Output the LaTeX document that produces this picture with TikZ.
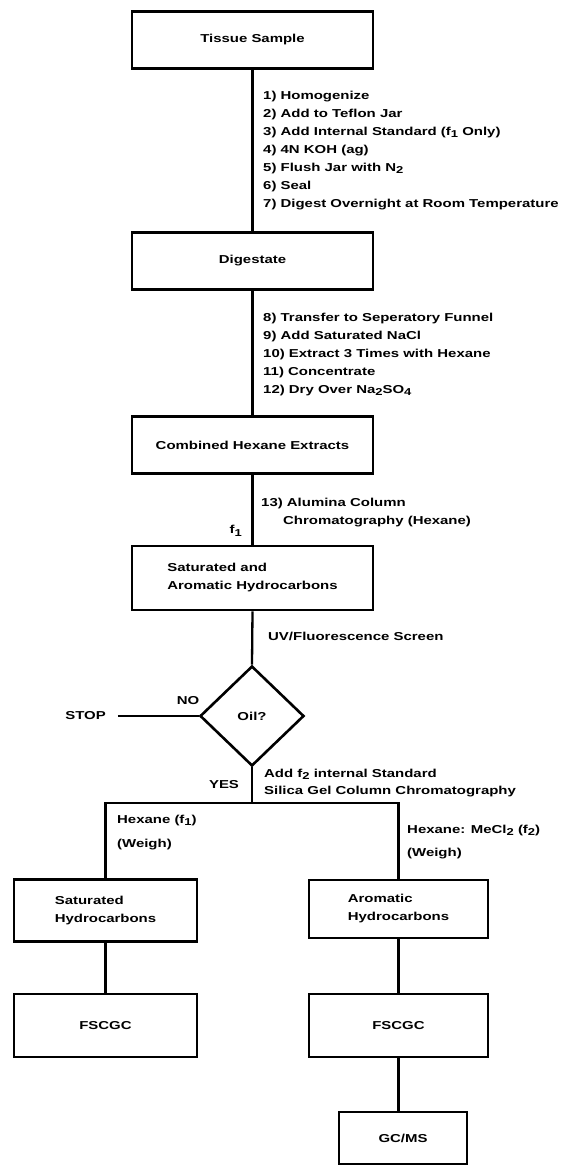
\documentclass[tikz,border=0pt]{standalone}
\usepackage{fontspec}
\setmainfont[FakeStretch=1.3]{Liberation Sans}
\usetikzlibrary{positioning, shapes.geometric}
\newcommand{\lowsub}[1]{\raisebox{-0.45ex}{\fontsize{10}{10}\selectfont #1}}
\tikzset{
stepbox/.style={draw, line width=2.6pt, inner sep=0pt},
mainbox/.style={stepbox, minimum width=241pt, minimum height=57pt},
sidebox/.style={stepbox, minimum width=183pt, minimum height=62pt},
note/.style={align=left, inner sep=0pt, anchor=north west},
link/.style={line width=2.3pt},
}

\begin{document}
\begin{tikzpicture}[x=1pt, y=-1pt, font=\bfseries\fontsize{11.5}{18}\selectfont]
    \useasboundingbox (0,0) rectangle (571,1166);

    %boxes on the main line
    \node[mainbox] (tissue)  at (252.5,40)  {Tissue Sample};
    \node[mainbox] (digest)  at (252.5,261) {Digestate};
    \node[mainbox] (extract) at (252.5,445) {Combined Hexane Extracts};
    \node[mainbox, minimum height=64pt, align=left] (hydro) at (252.5,578)
        {Saturated and\\Aromatic Hydrocarbons};
    \node[draw, diamond, line width=2.6pt, inner sep=0pt,
          minimum width=104pt, minimum height=100pt] (oil) at (252,716) {Oil?};
    \node[inner sep=0pt] (stop) at (85.5,716) {STOP};

    %boxes on the two branches
    \node[sidebox, align=left] (sat) at (105.5,910.5) {Saturated\\Hydrocarbons};
    \node[sidebox, minimum width=179pt, minimum height=58pt, align=left] (arom)
        at (398.5,909) {Aromatic\\Hydrocarbons};
    \node[sidebox, minimum height=63pt] (fscL) at (105.5,1025.5) {FSCGC};
    \node[sidebox, minimum width=179pt, minimum height=63pt] (fscR) at (398.5,1025.5) {FSCGC};
    \node[stepbox, minimum width=128pt, minimum height=52pt] (gcms) at (403,1138) {GC/MS};

    %steps beside the lines
    \node[note] (stepsA) at (263,90.7) {1) Homogenize\\2) Add to Teflon Jar\\
        3) Add Internal Standard (f\lowsub{1} Only)\\4) 4N KOH (ag)\\
        5) Flush Jar with N\lowsub{2}\\6) Seal\\7) Digest Overnight at Room Temperature};
    \node[note] (stepsB) at (263,312.7) {8) Transfer to Seperatory Funnel\\
        9) Add Saturated NaCl\\10) Extract 3 Times with Hexane\\11) Concentrate\\
        12) Dry Over Na\lowsub{2}SO\lowsub{4}};
    \node[note] (stepsC) at (261,497.7) {13) Alumina Column\\
        \hspace{22pt}Chromatography (Hexane)};
    \node[inner sep=0pt, anchor=east] (fone) at (242,531) {f\lowsub{1}};
    \node[inner sep=0pt, anchor=west] (screen) at (268,636) {UV/Fluorescence Screen};
    \node[inner sep=0pt] (no) at (188,701) {NO};
    \node[inner sep=0pt] (yes) at (224,785) {YES};
    \node[note, font=\bfseries\fontsize{11.5}{17}\selectfont] (silica) at (264,768.7)
        {Add f\lowsub{2} internal Standard\\Silica Gel Column Chromatography};
    \node[note, font=\bfseries\fontsize{11.5}{24}\selectfont] (hexL) at (117,814.7)
        {Hexane (f\lowsub{1})\\(Weigh)};
    \node[note, font=\bfseries\fontsize{11.5}{23}\selectfont] (hexR) at (407,824.7)
        {Hexane: MeCl\lowsub{2} (f\lowsub{2})\\(Weigh)};

    %main line
    \draw[link] (tissue.south)--(digest.north);
    \draw[link] (digest.south)--(extract.north);
    \draw[link] (extract.south)--(hydro.north);
    \draw[link] (hydro.south)--(oil.north);
    \draw[link] ([xshift=12pt]stop.east)--(oil.west);

    %split into the two fractions
    \coordinate (busL) at (105.5,803);
    \coordinate (busR) at (398.5,803);
    \draw[link] (oil.south)--(oil.south |- busL);
    \draw[link] (sat.north)--(busL)--(busR)--(arom.north);

    %branch lines
    \draw[link] (sat.south)--(fscL.north);
    \draw[link] (arom.south)--(fscR.north);
    \draw[link] (fscR.south)--(fscR.south |- gcms.north);
\end{tikzpicture}
\end{document}
